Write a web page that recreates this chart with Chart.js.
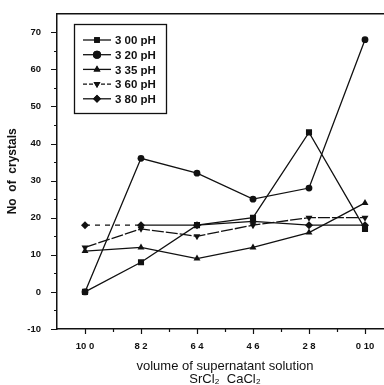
<!DOCTYPE html>
<html>
<head>
<meta charset="utf-8">
<script src="https://cdn.jsdelivr.net/npm/chart.js@4.4.0/dist/chart.umd.min.js"></script>
<style>
  html, body { margin: 0; padding: 0; background: #fff; overflow: hidden; }
  #wrap { width: 384px; height: 385px; overflow: hidden; }
</style>
</head>
<body>
<div id="wrap"><canvas id="chart" width="400" height="385"></canvas></div>
<script>
// categories: volume ratio SrCl2 : CaCl2
const categories = ['10 0', '8 2', '6 4', '4 6', '2 8', '0 10'];
const yTicks = [-10, 0, 10, 20, 30, 40, 50, 60, 70];

// No of crystals per pH
const ph300 = [0, 8, 18, 20, 43, 17];
const ph320 = [0, 36, 32, 25, 28, 68];
const ph335 = [11, 12, 9, 12, 16, 24];
const ph360 = [12, 17, 15, 18, 20, 20];
const ph380 = [18, 18, 18, 19, 18, 18];

const seriesNames = ['3 00 pH', '3 20 pH', '3 35 pH', '3 60 pH', '3 80 pH'];

const INK = '#111';
const FONT = '"Liberation Sans", Arial, sans-serif';

function series(label, data, pointStyle, extra) {
  return Object.assign({
    label,
    data,
    borderColor: INK,
    backgroundColor: INK,
    borderWidth: 1.3,
    pointStyle,
    pointRadius: 4,
    pointBorderWidth: 0,
    tension: 0
  }, extra || {});
}

// axes frame + ticks (major and minor), legend box
const framePlugin = {
  id: 'frame',
  afterDraw(chart) {
    const { ctx, chartArea: a, scales } = chart;
    const x = scales.x, y = scales.y;
    ctx.save();
    ctx.strokeStyle = INK;
    ctx.lineWidth = 1.5;
    ctx.beginPath();
    ctx.moveTo(a.left, a.top);
    ctx.lineTo(a.right, a.top);
    ctx.stroke();

    ctx.lineWidth = 1.2;
    ctx.beginPath();
    for (let v = yTicks[0]; v <= yTicks[yTicks.length - 1]; v += 5) {
      const py = Math.round(y.getPixelForValue(v)) + 0.5;
      const len = v % 10 === 0 ? 6 : 3;
      ctx.moveTo(a.left - len, py);
      ctx.lineTo(a.left, py);
    }
    for (let i = 0; i < categories.length; i++) {
      const px = Math.round(x.getPixelForValue(i)) + 0.5;
      ctx.moveTo(px, a.bottom);
      ctx.lineTo(px, a.bottom + 5);
      if (i < categories.length - 1) {
        const mx = Math.round((x.getPixelForValue(i) + x.getPixelForValue(i + 1)) / 2) + 0.5;
        ctx.moveTo(mx, a.bottom);
        ctx.lineTo(mx, a.bottom + 3);
      }
    }
    ctx.stroke();

    // legend box inside the plot
    const bx = 74, by = 24, bw = 92, bh = 89;
    ctx.lineWidth = 1.3;
    ctx.strokeRect(bx + 0.5, by + 0.5, bw, bh);
    ctx.font = 'bold 11.5px ' + FONT;
    ctx.textBaseline = 'middle';
    ctx.fillStyle = INK;
    chart.data.datasets.forEach((ds, i) => {
      const ly = 40 + i * 14.7;
      ctx.lineWidth = 1.3;
      ctx.setLineDash(ds.legendDash || []);
      ctx.beginPath();
      ctx.moveTo(83, ly);
      ctx.lineTo(111, ly);
      ctx.stroke();
      ctx.setLineDash([]);
      Chart.helpers.drawPoint(ctx, {
        pointStyle: ds.pointStyle,
        rotation: ds.rotation || 0,
        radius: 4,
        borderWidth: 0
      }, 97, ly);
      ctx.fill();
      ctx.fillText(ds.label, 115, ly + 1);
    });
    ctx.restore();
  }
};

new Chart(document.getElementById('chart'), {
  type: 'line',
  data: {
    labels: categories,
    datasets: [
      series(seriesNames[0], ph300, 'rect', { pointRadius: 4.3 }),
      series(seriesNames[1], ph320, 'circle', { pointRadius: 3.4 }),
      series(seriesNames[2], ph335, 'triangle'),
      series(seriesNames[3], ph360, 'triangle', { rotation: 180, borderDash: [12, 2], legendDash: [4, 2] }),
      series(seriesNames[4], ph380, 'rectRot', {
        segment: { borderDash: c => c.p0DataIndex === 0 ? [5, 5] : undefined }
      })
    ]
  },
  options: {
    responsive: false,
    animation: false,
    devicePixelRatio: 1,
    layout: { padding: { top: 10, right: 7, left: 0, bottom: 0 } },
    plugins: {
      legend: { display: false },
      tooltip: { enabled: false }
    },
    scales: {
      x: {
        offset: true,
        grid: { display: false },
        border: { display: true, color: INK, width: 1.5 },
        ticks: {
          color: INK,
          padding: 4,
          maxRotation: 0,
          font: { family: FONT, size: 9.5, weight: 'bold' }
        },
        title: {
          display: true,
          text: ['volume of supernatant solution', 'SrCl\u2082  CaCl\u2082'],
          color: INK,
          padding: { top: 0, bottom: -1 },
          font: { family: FONT, size: 13, lineHeight: '13px' }
        },
        afterFit: s => { s.height = 56; }
      },
      y: {
        min: -10,
        max: 75,
        grid: { display: false },
        border: { display: true, color: INK, width: 1.5 },
        afterBuildTicks: s => { s.ticks = yTicks.map(v => ({ value: v })); },
        ticks: {
          color: INK,
          padding: 8,
          font: { family: FONT, size: 9.5, weight: 'bold' }
        },
        title: {
          display: true,
          text: 'No  of  crystals',
          color: INK,
          padding: { top: 5, bottom: 0 },
          font: { family: FONT, size: 12, weight: 'bold' }
        },
        afterFit: s => { s.width = 57; }
      }
    }
  },
  plugins: [framePlugin]
});
</script>
</body>
</html>
